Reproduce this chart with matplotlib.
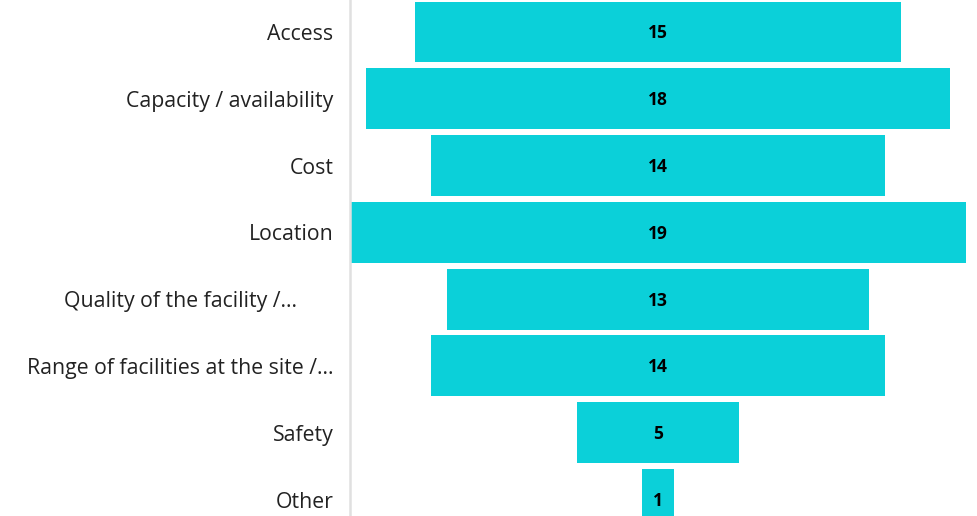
import matplotlib
matplotlib.use("Agg")
import matplotlib.pyplot as plt
from matplotlib.transforms import ScaledTranslation

categories = ["Access", "Capacity / availability", "Cost", "Location",
              "Quality of the facility /...", "Range of facilities at the site /...",
              "Safety", "Other"]
values = [15, 18, 14, 19, 13, 14, 5, 1]

bar_color = "#0BD0D9"

fig = plt.figure(figsize=(9.77, 5.16), dpi=100)
ax = fig.add_axes([350/977, 0, 616/977, 1])

ypos = list(range(len(categories)))
lefts = [-v/2 for v in values]
ax.barh(ypos, values, left=lefts, height=0.913, color=bar_color)

for y, v in zip(ypos, values):
    ax.text(0, y + 0.02, str(v), ha="center", va="center", fontsize=12.5,
            fontweight="bold", color="#000000", family="Open Sans")

ax.set_xlim(-9.5, 9.5)
ax.set_ylim(7.246, -0.479)
ax.set_yticks(ypos)
ax.set_yticklabels(categories, fontsize=15.3, family="Open Sans", color="#222222")
ax.tick_params(axis="y", length=0, pad=12)
ax.set_xticks([])
for s in ["top", "right", "bottom"]:
    ax.spines[s].set_visible(False)
ax.spines["left"].set_color("#E0E0E0")
ax.spines["left"].set_linewidth(1.8)

# the truncated "Quality ..." label sits a bit further left in the reference
lbl = ax.get_yticklabels()[4]
lbl.set_transform(lbl.get_transform() + ScaledTranslation(-0.36, 0, fig.dpi_scale_trans))

fig.savefig("out.png", dpi=100)
